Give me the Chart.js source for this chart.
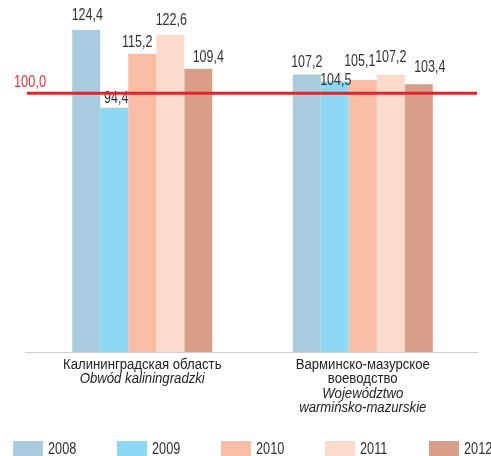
<!DOCTYPE html>
<html>
<head>
<meta charset="utf-8">
<script src="https://cdn.jsdelivr.net/npm/chart.js@4/dist/chart.umd.min.js"></script>
<style>
  html, body { margin: 0; padding: 0; background: #fff; }
  #wrap { width: 491px; height: 456px; position: relative; }
</style>
</head>
<body>
<div id="wrap"><canvas id="chart"></canvas></div>
<script>
// regions (two lines each: Russian / Polish)
const regions = [
    ["Калининградская область", "Obwód kaliningradzki"],
    ["Варминско-мазурское", "воеводство", "Województwo", "warmińsko-mazurskie"]
];
const years = ["2008", "2009", "2010", "2011", "2012"];

// index values per year (Kaliningrad, Warmia-Masuria)
const v2008 = [124.4, 107.2];
const v2009 = [94.4, 104.5];
const v2010 = [115.2, 105.1];
const v2011 = [122.6, 107.2];
const v2012 = [109.4, 103.4];
const refValue = 100.0;

const colors = ["#A8CBDD", "#8DD8F5", "#F8BDA5", "#FCDBCD", "#D99E88"];

// small nudges for value labels [dx, dy above bar top]
const labelNudge = [
    [[1, 14], [0, 12]],
    [[2, 9], [1, 1]],
    [[-5, 11.5], [-3, 18]],
    [[1, 13.7], [0, 17]],
    [[10, 11.5], [11, 17]]
];

const FONT = "'Liberation Sans', Arial, sans-serif";
const fmt = v => v.toFixed(1).replace(".", ",");

const series = [v2008, v2009, v2010, v2011, v2012];

// draws text squeezed horizontally (fake Arial Narrow)
function narrowText(ctx, text, x, y, align, font, color, sx) {
    ctx.save();
    ctx.font = font;
    ctx.fillStyle = color;
    ctx.textAlign = align;
    ctx.textBaseline = "middle";
    ctx.translate(x, y);
    ctx.scale(sx, 1);
    ctx.fillText(text, 0, 0);
    ctx.restore();
}

const extras = {
    id: "extras",
    afterDatasetsDraw(chart) {
        const ctx = chart.ctx;
        const xs = chart.scales.x;
        const ys = chart.scales.y;
        ctx.save();

        // baseline axis
        const y0 = ys.getPixelForValue(0);
        ctx.strokeStyle = "#CFCFCF";
        ctx.lineWidth = 1;
        ctx.beginPath();
        ctx.moveTo(25, Math.round(y0) + 0.5);
        ctx.lineTo(478, Math.round(y0) + 0.5);
        ctx.stroke();

        // value labels
        chart.data.datasets.forEach((ds, di) => {
            const meta = chart.getDatasetMeta(di);
            meta.data.forEach((bar, i) => {
                const n = labelNudge[di][i];
                narrowText(ctx, fmt(ds.data[i]), bar.x + n[0], bar.y - n[1], "center", "16px " + FONT, "#333333", 0.78);
            });
        });

        // reference line at 100
        const yr = ys.getPixelForValue(refValue);
        ctx.strokeStyle = "#E3232C";
        ctx.lineWidth = 3;
        ctx.beginPath();
        ctx.moveTo(27, yr);
        ctx.lineTo(477, yr);
        ctx.stroke();
        narrowText(ctx, fmt(refValue), 14, yr - 11, "left", "16px " + FONT, "#E3303A", 0.8);

        // category labels
        regions.forEach((lines, i) => {
            const cx = xs.getPixelForValue(i);
            const ruLines = i === 0 ? 1 : 2;
            lines.forEach((t, k) => {
                const f = (k >= ruLines ? "italic " : "") + "14px " + FONT;
                narrowText(ctx, t, cx, y0 + 13 + k * 14.4, "center", f, "#222222", 0.94);
            });
        });

        // legend
        chart.data.datasets.forEach((ds, di) => {
            const lx = 13 + di * 104;
            ctx.fillStyle = ds.backgroundColor;
            ctx.fillRect(lx, 441, 30, 15);
            narrowText(ctx, ds.label, lx + 35, 449.5, "left", "17px " + FONT, "#333333", 0.75);
        });
        ctx.restore();
    }
};

new Chart(document.getElementById("chart"), {
    type: "bar",
    data: {
        labels: regions,
        datasets: years.map((y, i) => ({
            label: y,
            data: series[i],
            backgroundColor: colors[i],
            borderWidth: 0
        }))
    },
    options: {
        responsive: true,
        maintainAspectRatio: false,
        animation: false,
        layout: { padding: { left: 32, right: 18, top: 15.5, bottom: 104 } },
        datasets: { bar: { categoryPercentage: 0.635, barPercentage: 1.0 } },
        plugins: { legend: { display: false }, tooltip: { enabled: false } },
        scales: {
            x: { display: false },
            y: { display: false, min: 0, max: 130 }
        }
    },
    plugins: [extras]
});
</script>
</body>
</html>
